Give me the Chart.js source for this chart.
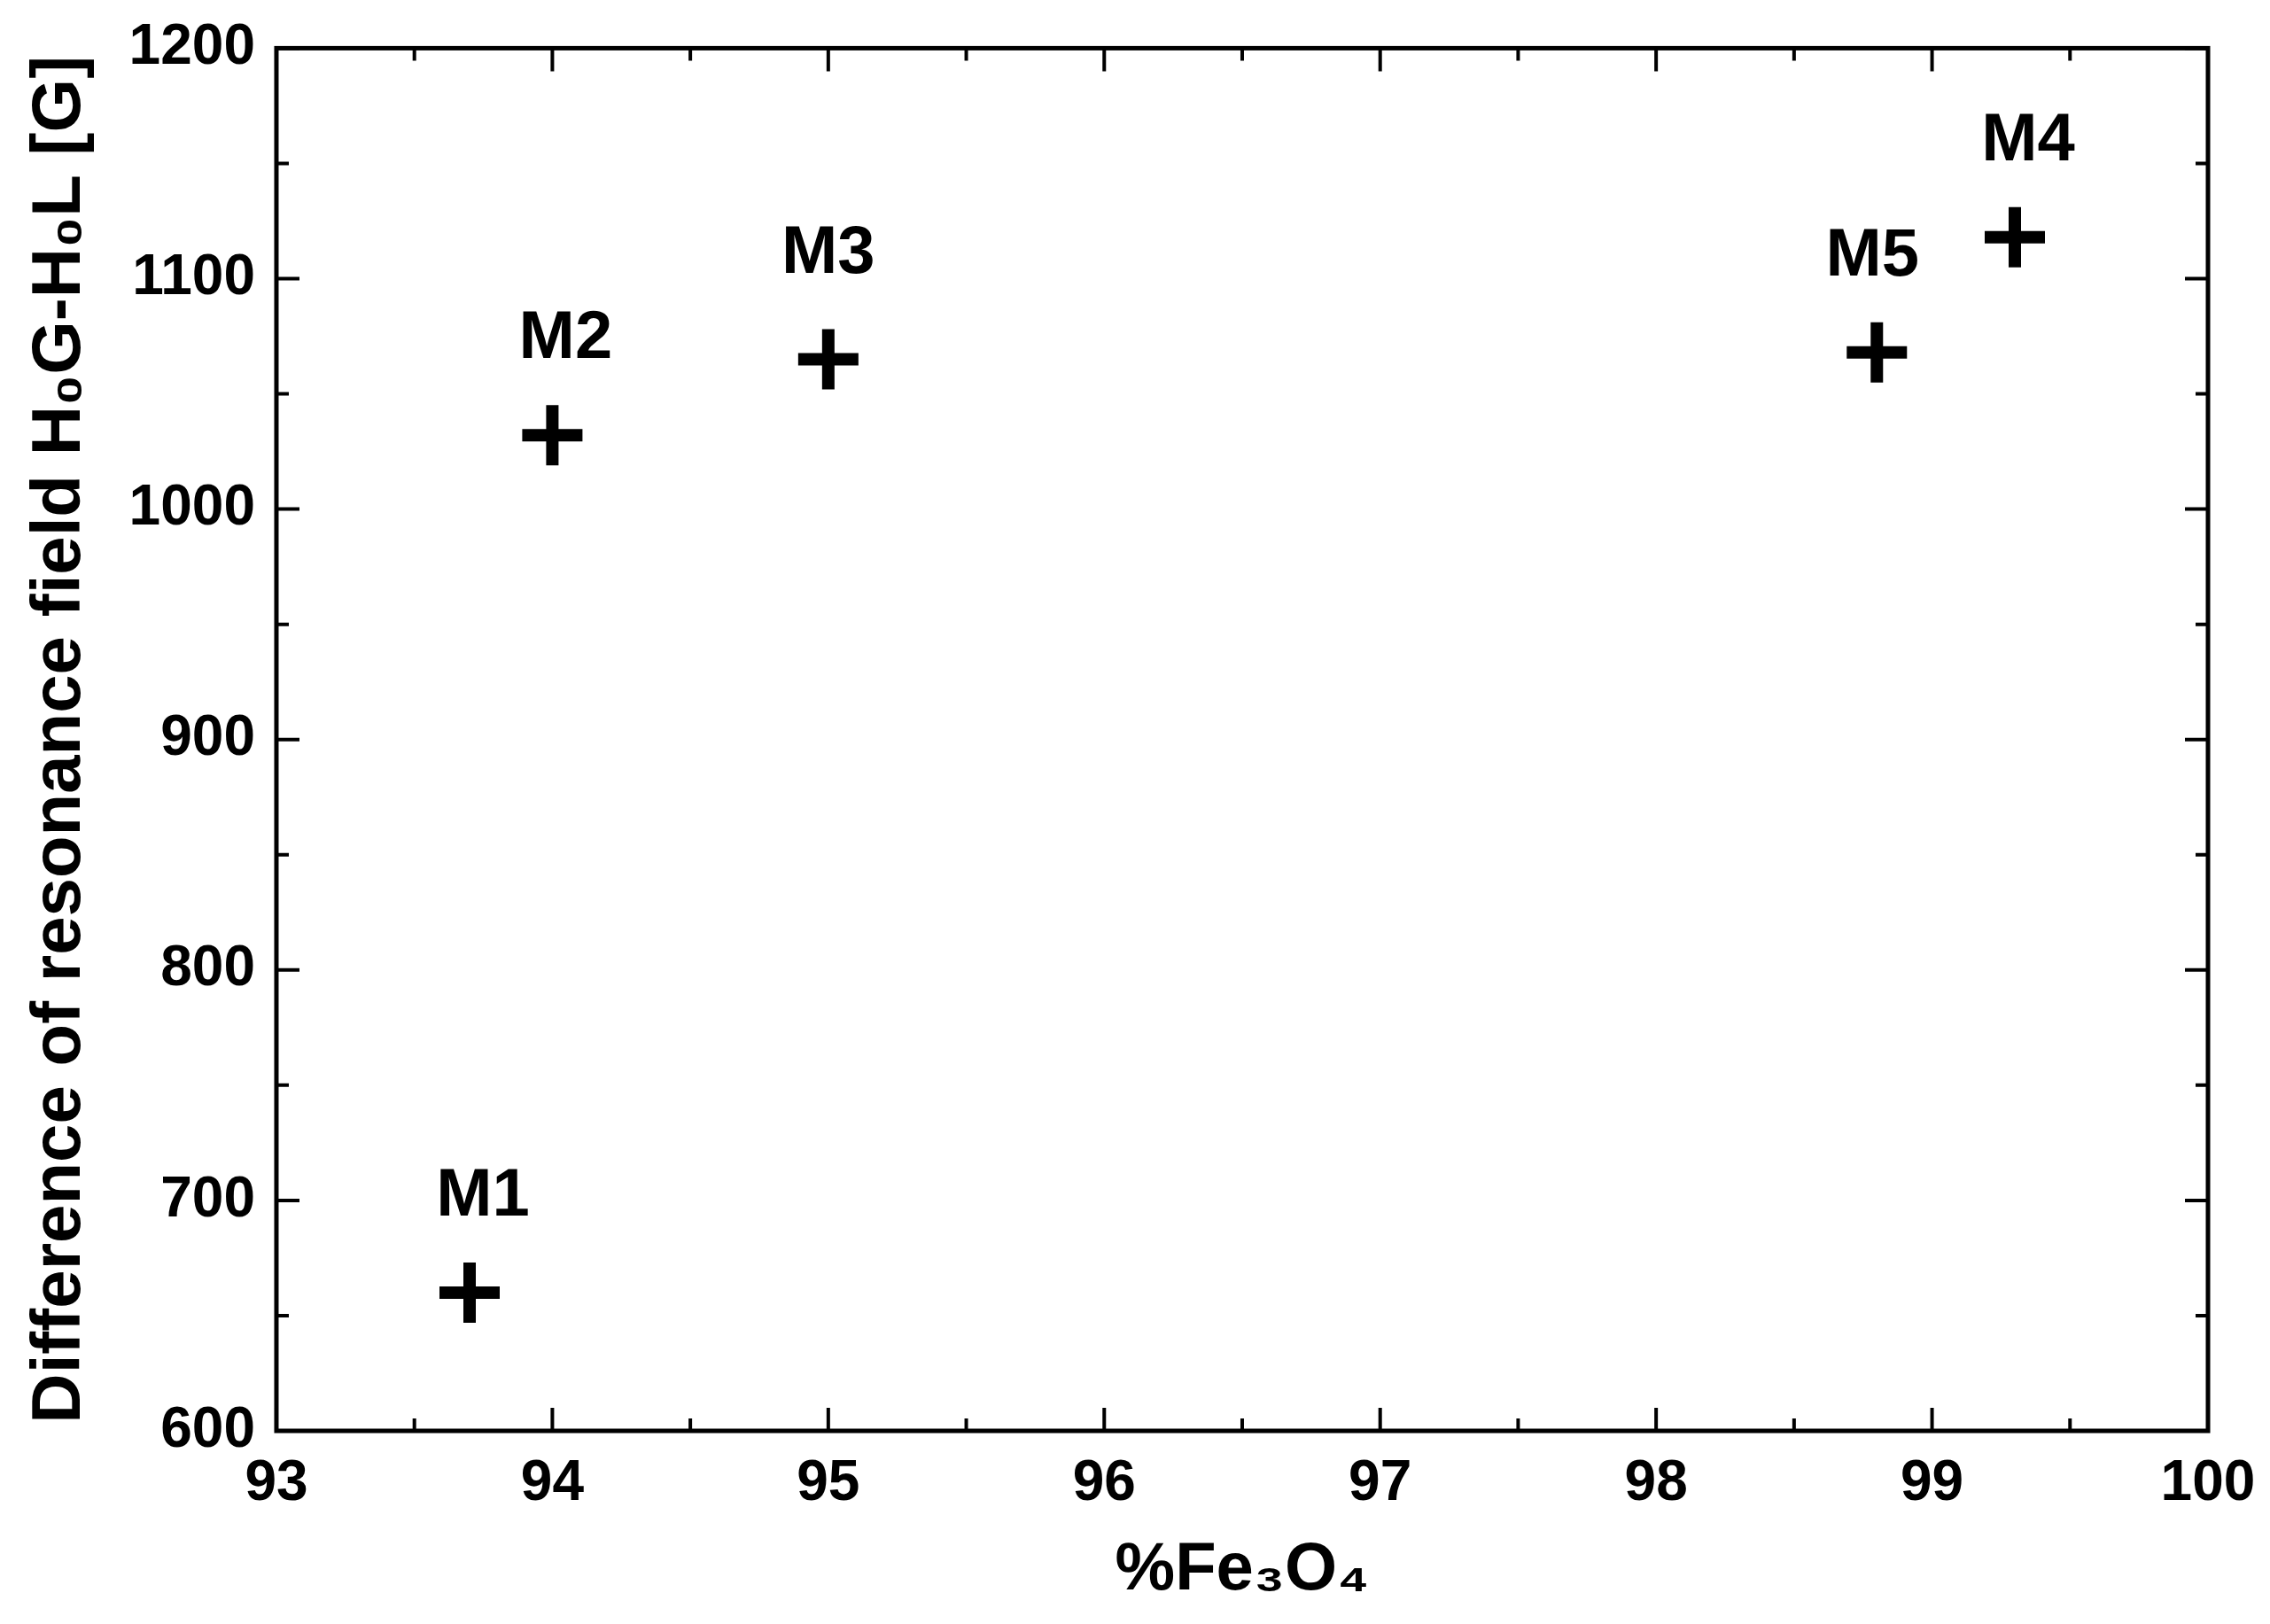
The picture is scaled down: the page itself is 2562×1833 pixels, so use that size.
<!DOCTYPE html>
<html lang="en">
<head>
  <meta charset="UTF-8" />
  <title>Resonance field difference</title>
  <script src="https://cdn.jsdelivr.net/npm/chart.js"></script>
  <style>
    html, body { margin: 0; padding: 0; background: white; }
    #wrap { width: 2562px; height: 1833px; }
  </style>
</head>
<body>
  <div id="wrap"><canvas id="chart"></canvas></div>
  <script>
    const samples = ["M1", "M2", "M3", "M5", "M4"];
    const fe3o4 = [93.7, 94.0, 95.0, 98.8, 99.3];
    const deltaH = [660, 1032, 1065, 1068, 1118];
    const xTicks = [93, 94, 95, 96, 97, 98, 99, 100];
    const yTicks = [600, 700, 800, 900, 1000, 1100, 1200];
    const labelOffsets = [[15, -70], [15, -70], [0, -80], [-5, -70], [15, -70]];

    const FONT = "'Liberation Sans', Arial, sans-serif";

    // inward ticks on all four sides plus frame
    const frameTicks = {
      id: 'frameTicks',
      afterDraw(chart) {
        const { ctx, chartArea: a, scales: { x, y } } = chart;
        ctx.save();
        ctx.strokeStyle = '#000';
        ctx.lineWidth = 5;
        ctx.strokeRect(a.left, a.top, a.right - a.left, a.bottom - a.top);
        ctx.lineWidth = 4;
        const major = 26, minor = 14;
        for (let v = 93; v <= 100.001; v += 0.5) {
          const px = x.getPixelForValue(v);
          const len = Math.abs(v - Math.round(v)) < 1e-6 ? major : minor;
          ctx.beginPath();
          ctx.moveTo(px, a.bottom); ctx.lineTo(px, a.bottom - len);
          ctx.moveTo(px, a.top); ctx.lineTo(px, a.top + len);
          ctx.stroke();
        }
        for (let v = 600; v <= 1200; v += 50) {
          const py = y.getPixelForValue(v);
          const len = v % 100 === 0 ? major : minor;
          ctx.beginPath();
          ctx.moveTo(a.left, py); ctx.lineTo(a.left + len, py);
          ctx.moveTo(a.right, py); ctx.lineTo(a.right - len, py);
          ctx.stroke();
        }
        // sample labels
        ctx.fillStyle = '#000';
        ctx.font = `bold 76px ${FONT}`;
        ctx.textAlign = 'center';
        ctx.textBaseline = 'bottom';
        samples.forEach((s, i) => {
          const px = x.getPixelForValue(fe3o4[i]) + labelOffsets[i][0];
          const py = y.getPixelForValue(deltaH[i]) + labelOffsets[i][1];
          ctx.fillText(s, px, py);
        });
        ctx.restore();
      }
    };

    new Chart('chart', {
      type: 'scatter',
      data: {
        datasets: [{
          data: fe3o4.map((v, i) => ({ x: v, y: deltaH[i] })),
          pointStyle: 'cross',
          pointRadius: 34,
          pointBorderWidth: 14,
          borderColor: '#000',
          backgroundColor: '#000'
        }]
      },
      options: {
        responsive: true,
        maintainAspectRatio: false,
        animation: false,
        layout: { padding: { top: 50, right: 70, left: 18, bottom: 10 } },
        plugins: { legend: { display: false }, tooltip: { enabled: false } },
        scales: {
          x: {
            type: 'linear', min: 93, max: 100,
            afterBuildTicks: s => { s.ticks = xTicks.map(v => ({ value: v })); },
            grid: { display: false },
            border: { display: false },
            ticks: { color: '#000', font: { family: FONT, size: 64, weight: 'bold' }, padding: 14, callback: v => String(v) },
            title: { display: true, text: '%Fe₃O₄', color: '#000', font: { family: FONT, size: 76, weight: 'bold' }, padding: { top: 0 } }
          },
          y: {
            type: 'linear', min: 600, max: 1200,
            afterBuildTicks: s => { s.ticks = yTicks.map(v => ({ value: v })); },
            grid: { display: false },
            border: { display: false },
            ticks: { color: '#000', font: { family: FONT, size: 64, weight: 'bold' }, padding: 16, callback: v => String(v) },
            title: { display: true, text: 'Difference of resonance field H₀G-H₀L [G]', color: '#000', font: { family: FONT, size: 78, weight: 'bold' }, padding: { bottom: 14 } }
          }
        }
      },
      plugins: [frameTicks]
    });
  </script>
</body>
</html>
